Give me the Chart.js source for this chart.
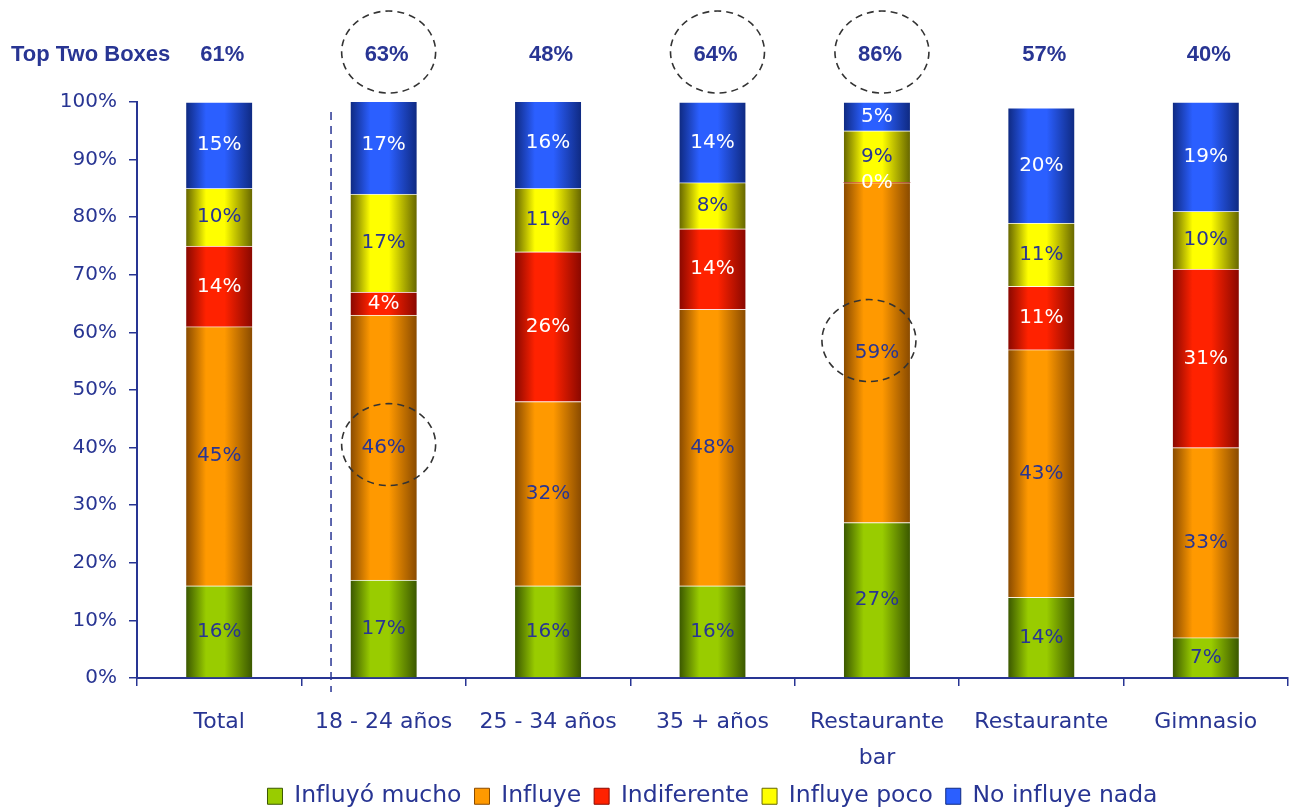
<!DOCTYPE html>
<html lang="es">
<head>
<meta charset="utf-8">
<title>Top Two Boxes</title>
<script src="https://cdn.jsdelivr.net/npm/chart.js@4.4.0/dist/chart.umd.min.js"></script>
<style>
  html, body { margin: 0; padding: 0; background: #fff; }
  #wrap { width: 1291px; height: 810px; }
</style>
</head>
<body>
<div id="wrap"><canvas id="chart" width="1291" height="810"></canvas></div>
<script>
// categories and series
const categories = ['Total', '18 - 24 años', '25 - 34 años', '35 + años', ['Restaurante', 'bar'], 'Restaurante', 'Gimnasio'];
const seriesNames = ['Influyó mucho', 'Influye', 'Indiferente', 'Influye poco', 'No influye nada'];
const influyoMucho = [16, 17, 16, 16, 27, 14, 7];
const influye = [45, 46, 32, 48, 59, 43, 33];
const indiferente = [14, 4, 26, 14, 0, 11, 31];
const influyePoco = [10, 17, 11, 8, 9, 11, 10];
const noInfluyeNada = [15, 17, 16, 14, 5, 20, 19];
const topTwoBoxes = [61, 63, 48, 64, 86, 57, 40];

// which numbers get a dashed ring
const ringedTop = [1, 3, 4];
const ringedBars = [{ series: 1, index: 1, dx: 5, dy: -3 }, { series: 1, index: 4, dx: -8, dy: -12 }];

const NAVY = '#283593';
const FONT = "'DejaVu Sans', Verdana, sans-serif";
const BAR_W = 66;
const LEGEND_FONT = 23.5;
const LEGEND_PAD = 13;
// legend box height in v4: max(font, boxHeight) + padding + 10
const LEGEND_H = LEGEND_FONT + LEGEND_PAD + 10;

// bright centre / dark edge for the cylinder shading
const palette = [
  { base: '#99cc00', edge: '#3b5800', text: NAVY },
  { base: '#ff9900', edge: '#8a4b00', text: NAVY },
  { base: '#ff2200', edge: '#8a0800', text: '#ffffff' },
  { base: '#ffff00', edge: '#676700', text: NAVY },
  { base: '#2b5fff', edge: '#0f2a82', text: '#ffffff' }
];

function cylinder(c) {
  return (ctx) => {
    const chart = ctx.chart;
    if (ctx.type !== 'data' || !chart.chartArea) return c.base;
    const cx = chart.scales.x.getPixelForValue(ctx.dataIndex);
    const g = chart.ctx.createLinearGradient(cx - BAR_W / 2, 0, cx + BAR_W / 2, 0);
    g.addColorStop(0, c.edge);
    g.addColorStop(0.3, c.base);
    g.addColorStop(0.58, c.base);
    g.addColorStop(1, c.edge);
    return g;
  };
}

const values = [influyoMucho, influye, indiferente, influyePoco, noInfluyeNada];

const datasets = values.map((data, i) => ({
  label: seriesNames[i],
  data: data,
  backgroundColor: cylinder(palette[i]),
  borderColor: 'rgba(255,255,255,0.35)',
  borderWidth: { top: 1 },
  borderSkipped: false,
  barThickness: BAR_W
}));

// numbers inside the segments
const segmentLabels = {
  id: 'segmentLabels',
  afterDatasetsDraw(chart) {
    const ctx = chart.ctx;
    ctx.save();
    ctx.font = '20px ' + FONT;
    ctx.textAlign = 'center';
    ctx.textBaseline = 'middle';
    chart.data.datasets.forEach((ds, i) => {
      chart.getDatasetMeta(i).data.forEach((bar, j) => {
        ctx.fillStyle = palette[i].text;
        ctx.fillText(ds.data[j] + '%', bar.x, (bar.y + bar.base) / 2);
      });
    });
    ctx.restore();
  }
};

// "Top Two Boxes" row, divider and dashed rings
const extras = {
  id: 'extras',
  afterDraw(chart) {
    const ctx = chart.ctx;
    const x = chart.scales.x;
    const rowY = 55;
    ctx.save();
    ctx.fillStyle = NAVY;
    ctx.font = "bold 22px 'Liberation Sans', Arial, sans-serif";
    ctx.textBaseline = 'middle';
    ctx.textAlign = 'left';
    ctx.fillText('Top Two Boxes', 11, rowY);
    ctx.textAlign = 'center';
    topTwoBoxes.forEach((v, i) => ctx.fillText(v + '%', x.getPixelForValue(i) + 3, rowY));

    // divider between Total and the segments
    const dx = x.getPixelForValue(0.68);
    ctx.strokeStyle = NAVY;
    ctx.lineWidth = 1.5;
    ctx.setLineDash([8, 6]);
    ctx.beginPath();
    ctx.moveTo(dx, chart.chartArea.top + 10);
    ctx.lineTo(dx, chart.chartArea.bottom + 14);
    ctx.stroke();

    ctx.strokeStyle = '#333333';
    ctx.lineWidth = 1.6;
    ctx.setLineDash([7, 5]);
    const ring = (cx, cy) => {
      ctx.beginPath();
      ctx.ellipse(cx, cy, 47, 41, 0, 0, Math.PI * 2);
      ctx.stroke();
    };
    ringedTop.forEach(i => ring(x.getPixelForValue(i) + 5, rowY - 3));
    ringedBars.forEach(r => {
      const bar = chart.getDatasetMeta(r.series).data[r.index];
      ring(bar.x + r.dx, (bar.y + bar.base) / 2 + r.dy);
    });
    ctx.restore();
  }
};

new Chart(document.getElementById('chart'), {
  type: 'bar',
  data: { labels: categories, datasets: datasets },
  options: {
    responsive: false,
    animation: false,
    layout: { padding: { top: 102, right: 3, left: 0, bottom: -8 } },
    scales: {
      x: {
        stacked: true,
        grid: { offset: true, drawOnChartArea: false, drawTicks: true, tickLength: 8, color: NAVY, lineWidth: 1.5 },
        border: { color: NAVY, width: 2 },
        ticks: { color: NAVY, font: { family: FONT, size: 22, lineHeight: 1.64 }, padding: 18, maxRotation: 0, autoSkip: false },
        afterFit(scale) {
          scale.height = scale.chart.height + 8 - 678 - LEGEND_H;
        }
      },
      y: {
        stacked: true,
        min: 0,
        max: 100,
        grid: { drawOnChartArea: false, drawTicks: true, tickLength: 8, color: NAVY, lineWidth: 1.5 },
        border: { color: NAVY, width: 2 },
        ticks: { stepSize: 10, color: NAVY, padding: 12, font: { family: FONT, size: 20 }, callback: v => v + '%' },
        afterFit(scale) { scale.width = 137; }
      }
    },
    plugins: {
      legend: {
        position: 'bottom',
        fullSize: false,
        labels: {
          color: NAVY, boxWidth: 15, boxHeight: 16, padding: LEGEND_PAD,
          font: { family: FONT, size: LEGEND_FONT },
          generateLabels(chart) {
            return Chart.defaults.plugins.legend.labels.generateLabels(chart).map((item, i) => {
              item.fillStyle = palette[i].base;
              item.strokeStyle = palette[i].edge;
              item.lineWidth = 1;
              return item;
            });
          }
        }
      },
      tooltip: { enabled: false }
    }
  },
  plugins: [segmentLabels, extras]
});
</script>
</body>
</html>
